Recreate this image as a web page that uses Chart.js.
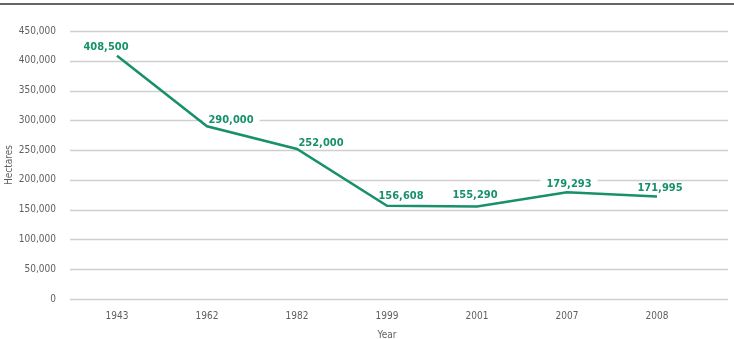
<!DOCTYPE html>
<html>
<head>
<meta charset="utf-8">
<script src="https://cdn.jsdelivr.net/npm/chart.js@4"></script>
<style>
    html, body { margin: 0; padding: 0; background: #fff; }
    #wrap { width: 734px; height: 339px; position: relative; }
</style>
</head>
<body>
<div id="wrap"><canvas id="myChart"></canvas></div>
<script>
const years = ['1943', '1962', '1982', '1999', '2001', '2007', '2008'];
const hectares = [408500, 290000, 252000, 156608, 155290, 179293, 171995];
const yTicks = [0, 50000, 100000, 150000, 200000, 250000, 300000, 350000, 400000, 450000];

// label offsets from the point (dx, dy), as placed in the original
const labelOffsets = [[-11, -9], [24, -6], [24, -6], [14, -10], [-2, -11], [2, -8], [3, -8]];

const FONT = "'Liberation Sans Narrow', 'DejaVu Sans Condensed', 'Liberation Sans', sans-serif";
const GREEN = '#17906b';
const GREY = '#5f5f5f';

const fmt = n => n.toLocaleString('en-US');

// top rule, horizontal grid lines running past the plot area, then value labels
// (labels sit under the line so their white boxes only hide the grid)
const framePlugin = {
    id: 'frame',
    beforeDatasetsDraw(chart) {
        const ctx = chart.ctx;
        const area = chart.chartArea;
        const y = chart.scales.y;
        ctx.save();
        ctx.strokeStyle = '#666';
        ctx.lineWidth = 2;
        ctx.beginPath();
        ctx.moveTo(0, 4);
        ctx.lineTo(chart.width, 4);
        ctx.stroke();

        ctx.strokeStyle = '#cfcfcf';
        ctx.lineWidth = 1.5;
        yTicks.forEach(v => {
            const py = Math.round(y.getPixelForValue(v)) + 0.5;
            ctx.beginPath();
            ctx.moveTo(area.left - 2, py);
            ctx.lineTo(area.right + 26, py);
            ctx.stroke();
        });

        const meta = chart.getDatasetMeta(0);
        ctx.font = 'bold 11px ' + FONT;
        ctx.textAlign = 'center';
        ctx.textBaseline = 'middle';
        meta.data.forEach((pt, i) => {
            const text = fmt(hectares[i]);
            const x = pt.x + labelOffsets[i][0];
            const ly = pt.y + labelOffsets[i][1];
            const w = ctx.measureText(text).width + 12;
            ctx.fillStyle = '#fff';
            ctx.fillRect(x - w / 2, ly - 6, w, 12);
            ctx.fillStyle = GREEN;
            ctx.fillText(text, x, ly);
        });
        ctx.restore();
    }
};

const ctx = document.getElementById('myChart').getContext('2d');
new Chart(ctx, {
    type: 'line',
    data: {
        labels: years,
        datasets: [{
            data: hectares,
            borderColor: GREEN,
            borderWidth: 2.5,
            pointRadius: 0,
            tension: 0,
            fill: false
        }]
    },
    options: {
        responsive: true,
        maintainAspectRatio: false,
        animation: false,
        layout: { padding: { top: 31, right: 32, left: 0, bottom: 0 } },
        plugins: {
            legend: { display: false },
            tooltip: { enabled: false }
        },
        scales: {
            x: {
                offset: true,
                grid: { display: false, drawTicks: false },
                border: { display: false },
                ticks: {
                    color: GREY,
                    font: { family: FONT, size: 10 },
                    padding: 11,
                    maxRotation: 0
                },
                title: {
                    display: true,
                    text: 'Year',
                    color: GREY,
                    font: { family: FONT, size: 10 },
                    padding: { top: 0, bottom: -2 }
                },
                afterFit(scale) { scale.height = 40; }
            },
            y: {
                min: 0,
                max: 450000,
                afterBuildTicks(scale) {
                    scale.ticks = yTicks.map(v => ({ value: v }));
                },
                grid: { display: false, drawTicks: false },
                border: { display: false },
                ticks: {
                    color: GREY,
                    font: { family: FONT, size: 10 },
                    padding: 16,
                    callback: v => fmt(v)
                },
                title: {
                    display: true,
                    text: 'Hectares',
                    color: GREY,
                    font: { family: FONT, size: 10 },
                    padding: { top: 3, bottom: 0 }
                },
                afterFit(scale) { scale.width = 72; }
            }
        }
    },
    plugins: [framePlugin]
});
</script>
</body>
</html>
